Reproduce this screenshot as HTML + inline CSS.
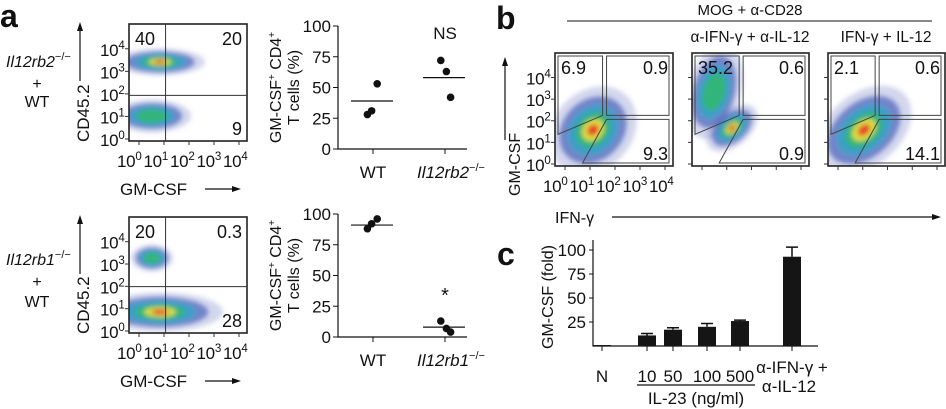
<!DOCTYPE html>
<html><head><meta charset="utf-8"><style>
html,body{margin:0;padding:0;background:#fff;}
svg{display:block;font-family:"Liberation Sans",sans-serif;}
text{fill:#111;}
</style></head><body>
<svg id="fig" width="946" height="409" viewBox="0 0 946 409" xmlns="http://www.w3.org/2000/svg">
<defs>
<filter id="blur" x="-50%" y="-50%" width="200%" height="200%"><feGaussianBlur stdDeviation="2.5"/></filter>
<clipPath id="ca1"><rect x="129" y="24" width="118" height="117"/></clipPath>
<clipPath id="ca2"><rect x="129" y="217" width="118" height="116"/></clipPath>
<clipPath id="cb1"><rect x="555" y="53" width="118" height="113"/></clipPath>
<clipPath id="cb2"><rect x="692" y="53" width="117" height="113"/></clipPath>
<clipPath id="cb3"><rect x="828" y="53" width="117" height="113"/></clipPath>
</defs>

<text x="0" y="27" font-size="32" font-weight="bold">a</text>
<text x="496" y="29" font-size="32" font-weight="bold">b</text>
<text x="497" y="265" font-size="32" font-weight="bold">c</text>

<g font-size="16">
<text x="6" y="67" font-style="italic">Il12rb2<tspan font-size="11" dy="-7" font-style="normal">−/−</tspan></text>
<text x="37" y="89" text-anchor="middle">+</text>
<text x="37" y="107" text-anchor="middle">WT</text>
</g>
<g font-size="16">
<text x="6" y="265" font-style="italic">Il12rb1<tspan font-size="11" dy="-7" font-style="normal">−/−</tspan></text>
<text x="37" y="287" text-anchor="middle">+</text>
<text x="37" y="307" text-anchor="middle">WT</text>
</g>

<g id="flows"></g>
<g id="scatters"></g>
<g id="barchart"></g>

<text x="750" y="15" font-size="15" text-anchor="middle">MOG + α-CD28</text>
<line x1="567" y1="21" x2="932" y2="21" stroke="#111" stroke-width="1"/>
<text x="750" y="42" font-size="15.5" text-anchor="middle">α-IFN-γ + α-IL-12</text>
<text x="886" y="42" font-size="15.5" text-anchor="middle">IFN-γ + IL-12</text>
<text x="555" y="223" font-size="16">IFN-γ</text>
<line x1="612" y1="217" x2="936" y2="217" stroke="#111" stroke-width="1.2"/>
<polygon points="941,217 932,214 932,220" fill="#111"/>
<text transform="translate(520,196) rotate(-90)" font-size="16">GM-CSF</text>
<line x1="505" y1="140" x2="505" y2="63" stroke="#111" stroke-width="1.2"/>
<polygon points="505,57 502,66 508,66" fill="#111"/>
</svg>
<script>
const NS='http://www.w3.org/2000/svg';
function mk(tag,attrs,parent){const e=document.createElementNS(NS,tag);for(const k in attrs)e.setAttribute(k,attrs[k]);if(parent)parent.appendChild(e);return e;}
function sup(parent,x,y,base,exp,size,anchor){const t=mk('text',{x:x,y:y,'font-size':size,'text-anchor':anchor||'start','letter-spacing':-0.3},parent);t.textContent=base;const s=mk('tspan',{dy:-7,'font-size':size*0.68},t);s.textContent=exp;return t;}

/* ---------- Flow cytometry plots ---------- */
const blobPlots=['a1','a1','a2','a2','b1','b2','b2','b3'];
const blobCx=[160,152,152,160,593,714,732,864];
const blobCy=[62,116,258,312,130,92,128,130];
const blobRx=[30,26,14,42,32,18,20,36];
const blobRy=[9,11,9,13,26,32,12,24];
const blobRot=[0,0,0,0,-45,15,-40,-40];
const blobHot=[0.9,0.7,0.75,1,1,0.6,1,0.9];
const flowBox={a1:[129,24,118,117],a2:[129,217,118,116],b1:[555,53,118,113],b2:[692,53,117,113],b3:[828,53,117,113]};
const flowClip={a1:'ca1',a2:'ca2',b1:'cb1',b2:'cb2',b3:'cb3'};
const quadLabels={a1:['40','20','9'],a2:['20','0.3','28'],b1:['6.9','0.9','9.3'],b2:['35.2','0.6','0.9'],b3:['2.1','0.6','14.1']};
const decadeLabels=['0','1','2','3','4'];
const layers=[['#4a5fb8',1.5,0.25],['#2f4fb0',1.15,0.6],['#2fa6c8',0.85,0.8],['#34b870',0.6,0.9],['#e6e23a',0.38,0.95],['#e8402a',0.2,1]];

const flows=document.getElementById('flows');
Object.keys(flowBox).forEach(function(p){
  const b=flowBox[p];
  const g=mk('g',{},flows);
  
  
  const dg=mk('g',{'clip-path':'url(#'+flowClip[p]+')'},g);
  const bl=mk('g',{filter:'url(#blur)'},dg);
  for(let i=0;i<blobPlots.length;i++){
    if(blobPlots[i]!==p)continue;
    layers.forEach(function(L,li){
      if(li>=4 && blobHot[i]<0.7+li*0.04) return;
      const e=mk('ellipse',{cx:blobCx[i],cy:blobCy[i],rx:blobRx[i]*L[1],ry:blobRy[i]*L[1],fill:L[0],opacity:L[2],transform:'rotate('+blobRot[i]+' '+blobCx[i]+' '+blobCy[i]+')'},bl);
      
      
    });
  }
  const box=mk('rect',{x:b[0],y:b[1],width:b[2],height:b[3],fill:'none',stroke:'#222','stroke-width':1.6},g);
  
  
  const x0=b[0],y0=b[1],w=b[2],h=b[3];
  if(p[0]==='a'){
    const gx=x0+w*0.31, gy=(p==='a1')?y0+h*0.61:y0+h*0.6;
    const gl=mk('path',{d:'M'+gx+' '+y0+'V'+(y0+h)+'M'+x0+' '+gy+'H'+(x0+w),stroke:'#333','stroke-width':1,fill:'none'},g);
    
    
  } else {
    const cx=x0+w*0.42, cy=y0+h*0.57;
    const d='M'+(x0+3)+' '+(y0+3)+'H'+(cx-2)+'V'+(cy-2)+'L'+(x0+3)+' '+(y0+h*0.72)+'Z'+
      'M'+(cx+2)+' '+(y0+3)+'H'+(x0+w-4)+'V'+(cy-2)+'H'+(cx+2)+'Z'+
      'M'+(cx+2)+' '+(cy+2)+'H'+(x0+w-4)+'V'+(y0+h-3)+'H'+(cx-22)+'Z';
    const gl=mk('path',{d:d,stroke:'#444','stroke-width':1,fill:'none'},g);
    
    
  }
  const q=quadLabels[p];
  const t1=mk('text',{x:x0+6,y:y0+21,'font-size':18},g);t1.textContent=q[0];
  
  const t2=mk('text',{x:x0+w-5,y:y0+21,'font-size':18,'text-anchor':'end'},g);t2.textContent=q[1];
  
  const t3=mk('text',{x:x0+w-5,y:y0+h-6,'font-size':18,'text-anchor':'end'},g);t3.textContent=q[2];
  
  const tk=mk('g',{stroke:'#333','stroke-width':1},g);
  for(let k=0;k<5;k++){
    const ty=y0+h-2-k*(h-20)/4.3, tx=x0+10+k*(w-18)/4;
    mk('line',{x1:x0-4,y1:ty,x2:x0,y2:ty},tk);
    mk('line',{x1:tx,y1:y0+h,x2:tx,y2:y0+h+4},tk);
  }
  if(p!=='b2' && p!=='b3'){
    const yl=mk('g',{},g);
    
    
    for(let k=0;k<5;k++){const ty=y0+h-2-k*(h-20)/4.3;sup(yl,x0-29,ty+7,'10',decadeLabels[k],17,'start');}
    const xl=mk('g',{},g);
    
    
    for(let k=0;k<5;k++){sup(xl,x0-12+k*26.5,y0+h+26,'10',decadeLabels[k],17);}
  }
  if(p[0]==='a'){
    const xt=mk('text',{x:x0-9,y:y0+h+54,'font-size':17},g);xt.textContent='GM-CSF';
    
    mk('line',{x1:x0+76,y1:y0+h+48,x2:x0+106,y2:y0+h+48,stroke:'#111','stroke-width':1.2},g);
    mk('polygon',{points:(x0+112)+','+(y0+h+48)+' '+(x0+103)+','+(y0+h+45)+' '+(x0+103)+','+(y0+h+51),fill:'#111'},g);
    const yt=mk('text',{transform:'translate('+(x0-40)+','+(y0+h+1)+') rotate(-90)','font-size':17},g);yt.textContent='CD45.2';
    
    mk('line',{x1:x0-49,y1:y0+57,x2:x0-49,y2:y0+5,stroke:'#111','stroke-width':1.2},g);
    mk('polygon',{points:(x0-49)+','+(y0-2)+' '+(x0-52)+','+(y0+7)+' '+(x0-46)+','+(y0+7),fill:'#111'},g);
  }
});

/* ---------- Dot plots (panel a) ---------- */
const dotCategoriesTop=['WT','Il12rb2'];
const dotValuesTopWT=[53,31,28];
const dotValuesTopKO=[72,63,42];
const dotMeansTop=[39,58];
const dotCategoriesBottom=['WT','Il12rb1'];
const dotValuesBottomWT=[96,92,88];
const dotValuesBottomKO=[13,7,4];
const dotMeansBottom=[91,8];
const dotTicks=[0,25,50,75,100];

const scat=document.getElementById('scatters');
function dotPlot(top,bottom,wt,ko,means,cats,note,noteY,name){
  const g=mk('g',{},scat);
  
  
  const ax=338, xs=[373,445];
  const y=v=>bottom-(bottom-top)*v/100;
  mk('path',{d:'M'+ax+' '+y(100)+'V'+y(0)+'H'+(xs[1]+22),stroke:'#111','stroke-width':1.2,fill:'none'},g);
  dotTicks.forEach(function(t){
    mk('line',{x1:ax-5,y1:y(t),x2:ax,y2:y(t),stroke:'#111'},g);
    const tl=mk('text',{x:ax-7,y:y(t)+6,'font-size':17,'text-anchor':'end'},g);tl.textContent=t;
  });
  xs.forEach(function(x){mk('line',{x1:x,y1:y(0),x2:x,y2:y(0)+5,stroke:'#111'},g);});
  const offs=[6,-2,-8];
  [wt,ko].forEach(function(arr,ci){
    arr.forEach(function(v,i){
      const c=mk('circle',{cx:xs[ci]+offs[i]*(ci?-1:1)*0.7,cy:y(v),r:3.8,fill:'#111'},g);
      
      
    });
    const m=mk('line',{x1:xs[ci]-22,y1:y(means[ci]),x2:xs[ci]+20,y2:y(means[ci]),stroke:'#111','stroke-width':1.2},g);
    
    
  });
  const l1=mk('text',{x:xs[0],y:y(0)+29,'font-size':17,'text-anchor':'middle'},g);l1.textContent=cats[0];
  const l2=mk('text',{x:xs[1]+6,y:y(0)+29,'font-size':17,'text-anchor':'middle','font-style':'italic'},g);l2.textContent=cats[1];
  const s2=mk('tspan',{dy:-7,'font-size':11,'font-style':'normal'},l2);s2.textContent='−/−';
  const n=mk('text',{x:xs[1],y:noteY,'font-size':note==='*'?20:17,'text-anchor':'middle'},g);n.textContent=note;
  const cy=(top+bottom)/2;
  const a1=mk('text',{transform:'translate(281,'+cy+') rotate(-90)','font-size':16,'text-anchor':'middle'},g);
  a1.textContent='GM-CSF';
  const sa=mk('tspan',{dy:-6,'font-size':10},a1);sa.textContent='+';
  const sb=mk('tspan',{dy:6},a1);sb.textContent=' CD4';
  const sc=mk('tspan',{dy:-6,'font-size':10},a1);sc.textContent='+';
  const a2=mk('text',{transform:'translate(299,'+cy+') rotate(-90)','font-size':16,'text-anchor':'middle'},g);
  a2.textContent='T cells (%)';
}
dotPlot(26,149,dotValuesTopWT,dotValuesTopKO,dotMeansTop,dotCategoriesTop,'NS',39,'dot-plot-il12rb2');
dotPlot(214,337,dotValuesBottomWT,dotValuesBottomKO,dotMeansBottom,dotCategoriesBottom,'*',302,'dot-plot-il12rb1');

/* ---------- Bar chart (panel c) ---------- */
const barCategories=['N','10','50','100','500','α-IFN-γ +'];
const barValues=[1,11,17,20,26,93];
const barErrors=[0,2,2,3.5,1,10];
const barTicks=[25,50,75,100];

const bc=document.getElementById('barchart');
const by=v=>346-0.96*v;
const bxPos=[602,647,673,707,740,792];
const bxs=i=>bxPos[i];
mk('path',{d:'M593 240V'+by(0)+'H818',stroke:'#111','stroke-width':1.2,fill:'none'},bc);
barTicks.forEach(function(t){
  mk('line',{x1:589,y1:by(t),x2:593,y2:by(t),stroke:'#111'},bc);
  const tl=mk('text',{x:586,y:by(t)+6,'font-size':17,'text-anchor':'end'},bc);tl.textContent=t;
});
barValues.forEach(function(v,i){
  const x=bxs(i);
  const r=mk('rect',{x:x-9,y:by(v),width:18,height:by(0)-by(v),fill:'#151515'},bc);
  
  
  if(barErrors[i]>0){
    const e=mk('path',{d:'M'+x+' '+by(v)+'V'+by(v+barErrors[i])+'M'+(x-6)+' '+by(v+barErrors[i])+'H'+(x+6),stroke:'#111','stroke-width':1.5,fill:'none'},bc);
    
    
  }
  mk('line',{x1:x,y1:by(0),x2:x,y2:by(0)+5,stroke:'#111'},bc);
  const t=mk('text',{x:x,y:i<5?382:373,'font-size':17,'text-anchor':'middle'},bc);t.textContent=barCategories[i];
});
const t2=mk('text',{x:bxs(5)-3,y:392,'font-size':17,'text-anchor':'middle'},bc);t2.textContent='α-IL-12';
mk('line',{x1:637,y1:385,x2:755,y2:385,stroke:'#111','stroke-width':1.2},bc);
const il=mk('text',{x:696,y:404,'font-size':17,'text-anchor':'middle'},bc);il.textContent='IL-23 (ng/ml)';


const yt=mk('text',{transform:'translate(553,297) rotate(-90)','font-size':16,'text-anchor':'middle'},bc);yt.textContent='GM-CSF (fold)';


</script>
</body></html>
